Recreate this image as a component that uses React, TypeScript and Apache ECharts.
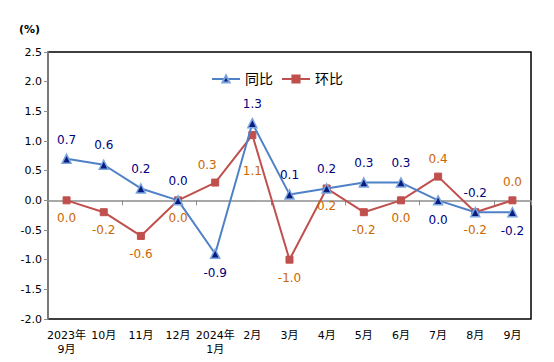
import React, { useEffect, useRef } from "react";
import * as echarts from "echarts";

const categories = [
  "2023年\n9月", "10月", "11月", "12月", "2024年\n1月", "2月", "3月",
  "4月", "5月", "6月", "7月", "8月", "9月",
];
const yoy = [0.7, 0.6, 0.2, 0.0, -0.9, 1.3, 0.1, 0.2, 0.3, 0.3, 0.0, -0.2, -0.2];
const mom = [0.0, -0.2, -0.6, 0.0, 0.3, 1.1, -1.0, 0.2, -0.2, 0.0, 0.4, -0.2, 0.0];
const yTicks = [-2.0, -1.5, -1.0, -0.5, 0.0, 0.5, 1.0, 1.5, 2.0, 2.5];

const FONT = "DejaVu Sans, Noto Sans CJK SC, sans-serif";

// label placement overrides (index -> label options)
const yoyLabelOverrides: Record<number, any> = {
  4: { position: "bottom" },
  10: { position: "bottom" },
  12: { position: "bottom" },
};
const momLabelOverrides: Record<number, any> = {
  4: { position: "top", offset: [-8, 0] },
  5: { position: "bottom", distance: 26 },
  10: { position: "top" },
  12: { position: "top" },
};

export default function App() {
  const ref = useRef<HTMLDivElement>(null);
  useEffect(() => {
    if (!ref.current) return;
    const chart = echarts.init(ref.current, null, { renderer: "svg" });
    const fmt = (p: any) => Number(p.value).toFixed(1);
    chart.setOption({
      animation: false,
      backgroundColor: "#fff",
      textStyle: { fontFamily: FONT },
      graphic: [
        {
          type: "text",
          left: 19,
          top: 24,
          style: { text: "(%)", fontSize: 11, fontWeight: "bold", fill: "#000", fontFamily: FONT },
        },
      ],
      legend: {
        top: 67,
        left: "center",
        itemWidth: 28,
        itemHeight: 9,
        itemGap: 8,
        textStyle: { fontSize: 14, color: "#000", fontFamily: FONT },
        data: ["同比", "环比"],
      },
      grid: {
        left: 48,
        right: 23,
        top: 52,
        bottom: 43,
        show: true,
        borderColor: "#000",
        borderWidth: 1.5,
        backgroundColor: "transparent",
      },
      xAxis: [
        {
          type: "category",
          data: categories,
          position: "bottom",
          axisLine: { show: false, onZero: false },
          axisTick: { show: false },
          splitLine: { show: false },
          axisLabel: { interval: 0, color: "#000", fontSize: 11, lineHeight: 14, margin: 9, fontFamily: FONT },
        },
        {
          type: "category",
          data: categories,
          position: "bottom",
          axisLine: { show: true, onZero: true, lineStyle: { color: "#8c8c8c", width: 1.5 } },
          axisTick: { show: true, length: 5, lineStyle: { color: "#8c8c8c" } },
          axisLabel: { show: false },
          splitLine: { show: false },
        },
      ],
      yAxis: {
        type: "value",
        min: yTicks[0],
        max: yTicks[yTicks.length - 1],
        interval: 0.5,
        axisLine: { show: true, lineStyle: { color: "#8c8c8c", width: 1.5 } },
        axisTick: { show: true, length: 4, lineStyle: { color: "#8c8c8c" } },
        splitLine: { show: false },
        axisLabel: {
          color: "#000",
          fontSize: 11,
          margin: 6,
          fontFamily: FONT,
          formatter: (v: number) => v.toFixed(1),
        },
      },
      series: [
        {
          name: "同比",
          type: "line",
          xAxisIndex: 0,
          data: yoy.map((v, i) => ({ value: v, label: yoyLabelOverrides[i] })),
          symbol: "triangle",
          symbolSize: 9,
          lineStyle: { color: "#4F81C7", width: 2 },
          itemStyle: { color: "#0B1C80", borderColor: "#7AA4DC", borderWidth: 1.5 },
          label: {
            show: true,
            position: "top",
            distance: 8,
            color: "#000080",
            fontSize: 12,
            fontFamily: FONT,
            formatter: fmt,
          },
          z: 3,
        },
        {
          name: "环比",
          type: "line",
          xAxisIndex: 0,
          data: mom.map((v, i) => ({ value: v, label: momLabelOverrides[i] })),
          symbol: "rect",
          symbolSize: 7,
          lineStyle: { color: "#C0504D", width: 2 },
          itemStyle: { color: "#C0504D", borderColor: "#C0504D", borderWidth: 1 },
          label: {
            show: true,
            position: "bottom",
            distance: 8,
            color: "#CC6600",
            fontSize: 12,
            fontFamily: FONT,
            formatter: fmt,
          },
          z: 2,
        },
      ],
    });
    return () => chart.dispose();
  }, []);
  return <div ref={ref} style={{ width: 554, height: 362, position: "fixed", left: 0, top: 0 }} />;
}
